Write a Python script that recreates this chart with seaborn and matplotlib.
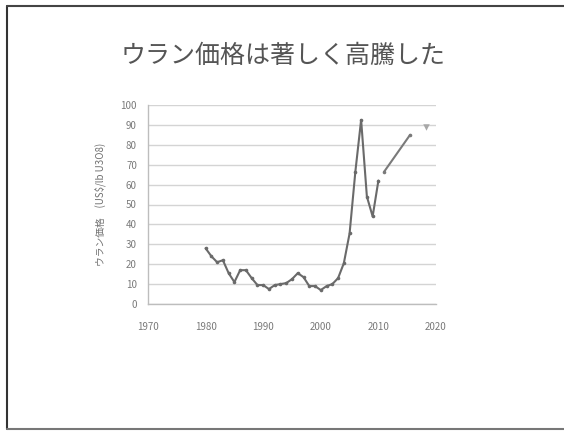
import matplotlib
matplotlib.use("Agg")
import matplotlib.pyplot as plt
from matplotlib.lines import Line2D
import seaborn as sns
import pandas as pd

# Uranium spot price (US$/lb U3O8)
hist_years = [1980, 1981, 1982, 1983, 1984, 1985, 1986, 1987, 1988, 1989,
              1990, 1991, 1992, 1993, 1994, 1995, 1996, 1997, 1998, 1999,
              2000, 2001, 2002, 2003, 2004, 2005, 2006, 2007, 2008, 2009, 2010]
hist_prices = [28, 24, 21, 22, 15.5, 11, 17, 17, 13, 9.5,
               9.5, 7.5, 9.5, 10, 10.5, 12.5, 15.5, 13.5, 9, 9,
               7, 9, 10, 13, 20.5, 35.5, 66.5, 92.5, 54, 44, 62]
proj_years = [2011, 2015.5]
proj_prices = [66.5, 85]
late_years = [2018.2]
late_prices = [89]

title_text = "ウラン価格は著しく高騰した"
ylabel_text = "ウラン価格　(US$/lb U3O8)"
x_ticks = [1970, 1980, 1990, 2000, 2010, 2020]
y_ticks = list(range(0, 101, 10))

sns.set_theme(style="white")
plt.rcParams["font.family"] = ["Noto Sans CJK JP", "DejaVu Sans"]

fig = plt.figure(figsize=(5.64, 4.38), dpi=100)
ax = fig.add_axes([148 / 564, 1 - 304 / 438, (436 - 148) / 564, (304 - 105) / 438])

hist = pd.DataFrame({"year": hist_years, "price": hist_prices})
proj = pd.DataFrame({"year": proj_years, "price": proj_prices})
late = pd.DataFrame({"year": late_years, "price": late_prices})

line_color = "#6a6a6a"
sns.lineplot(data=hist, x="year", y="price", ax=ax, color=line_color, lw=1.5,
             marker="o", markersize=2.6, markeredgewidth=0)
sns.lineplot(data=proj, x="year", y="price", ax=ax, color="#7a7a7a", lw=1.5,
             marker="o", markersize=2.6, markeredgewidth=0)
sns.scatterplot(data=late, x="year", y="price", ax=ax, color="#a8a8a8",
                marker="v", s=22, linewidth=0)

ax.set_xlim(1970, 2020)
ax.set_ylim(0, 100)
ax.set_xticks(x_ticks)
ax.set_yticks(y_ticks)
ax.set_xticklabels([str(t) for t in x_ticks])
ax.set_yticklabels([str(t) for t in y_ticks])
ax.yaxis.grid(True, color="#d4d4d4", lw=1.0)
ax.xaxis.grid(False)
for side in ("top", "right"):
    ax.spines[side].set_visible(False)
for side in ("left", "bottom"):
    ax.spines[side].set_color("#bdbdbd")
    ax.spines[side].set_linewidth(1.0)
ax.tick_params(axis="x", length=2, color="#bdbdbd", pad=11,
               labelsize=7, labelcolor="#7a7a7a")
ax.tick_params(axis="y", length=0, pad=8, labelsize=7, labelcolor="#7a7a7a")
ax.set_xlabel("")
ax.set_ylabel(ylabel_text, fontsize=7, color="#6f6f6f")
ax.yaxis.set_label_coords((106 - 148) / (436 - 148), 0.5)

fig.text(283 / 564, 1 - 56 / 438, title_text, ha="center", va="center",
         fontsize=18, color="#555555")

# slide frame
fig.add_artist(Line2D([7 / 564, 7 / 564], [1 - 5.5 / 438, 1 - 429 / 438],
                      transform=fig.transFigure, color="#333333", lw=1.5))
fig.add_artist(Line2D([7 / 564, 1], [1 - 5.5 / 438, 1 - 5.5 / 438],
                      transform=fig.transFigure, color="#444444", lw=1.5))
fig.add_artist(Line2D([7 / 564, 1], [1 - 429 / 438, 1 - 429 / 438],
                      transform=fig.transFigure, color="#777777", lw=1.5))

fig.savefig("out.png", dpi=100)
